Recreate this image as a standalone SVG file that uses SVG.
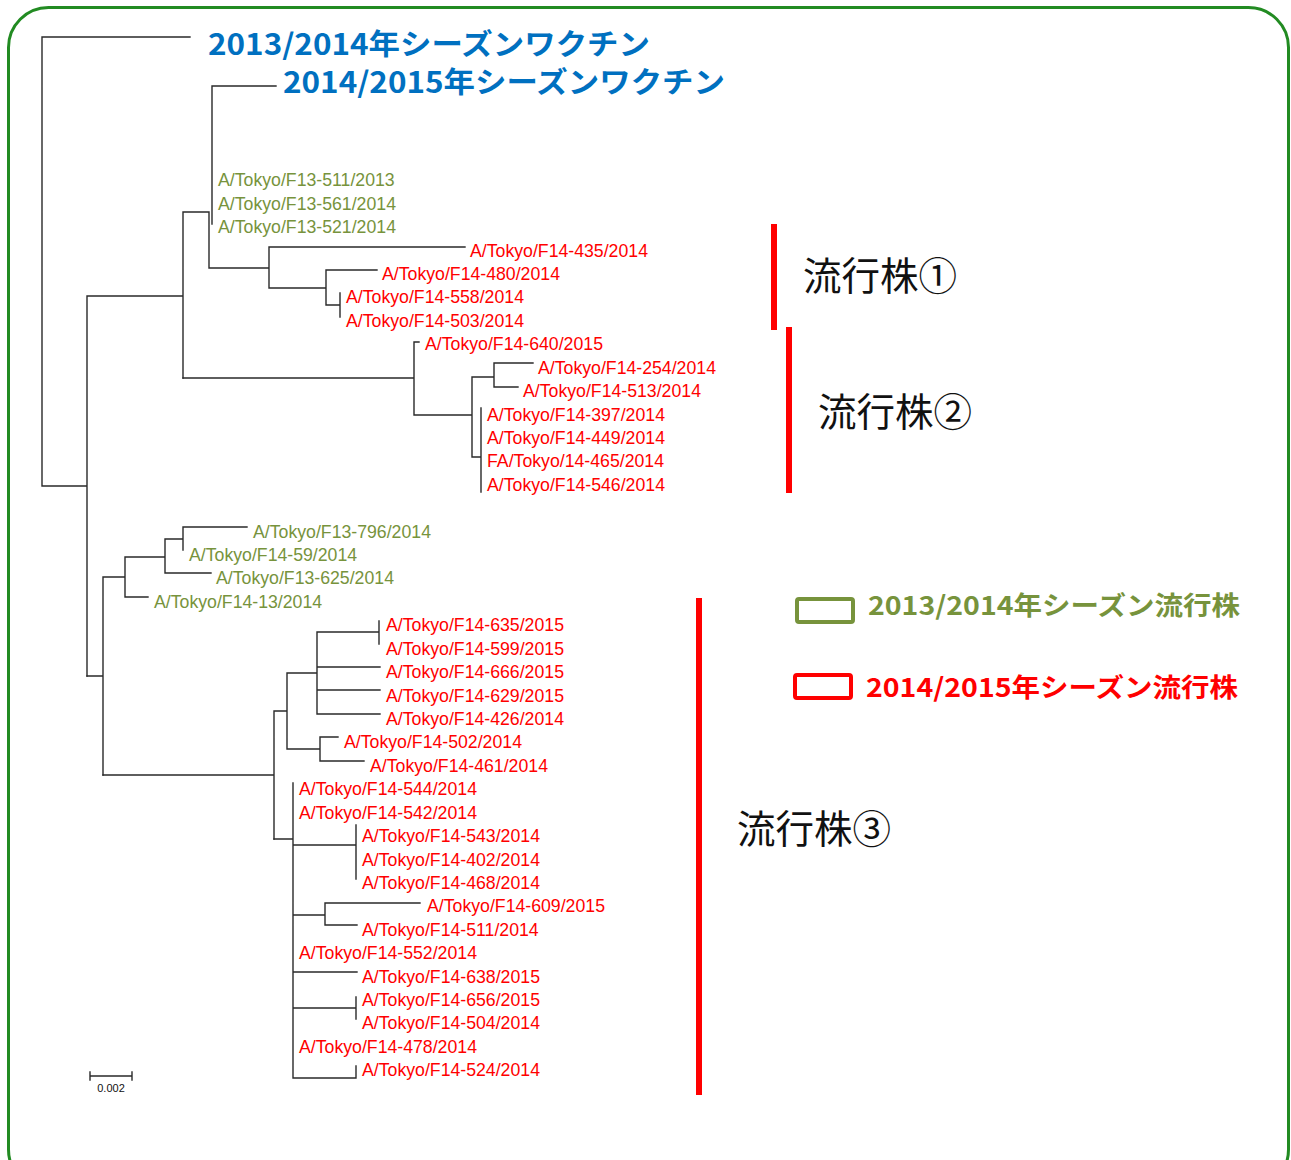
<svg xmlns="http://www.w3.org/2000/svg" width="1291" height="1160" viewBox="0 0 1291 1160">
<style>
.br{fill:none;stroke:#2a2a2a;stroke-width:1.4;stroke-linecap:square}
.lb{font-family:"Liberation Sans",Arial,sans-serif;font-size:17.7px}
.g{fill:#77933C}
.r{fill:#FF0000}
.vac{font-family:"Noto Sans CJK JP",sans-serif;font-weight:bold;font-size:29px;fill:#0070C0}
.leg{font-family:"Noto Sans CJK JP",sans-serif;font-weight:bold;font-size:26px}
.cl{font-family:"Noto Sans CJK JP",sans-serif;font-size:38.5px;fill:#111}
.bar{stroke:#FF0000;stroke-width:6}
</style>
<rect x="0" y="0" width="1291" height="1160" fill="#ffffff"/>
<rect id="frame" x="8.5" y="7.5" width="1280" height="1182" rx="40" ry="40" fill="none" stroke="#228B22" stroke-width="3"/>
<g id="connectors">
<path class="br" d="M42,37H190 M42,37V486 M42,486H87 M87,296V676 M87,296H183 M183,212V378 M183,212H209 M209,212V268 M212,86V224 M212,86H276 M209,268H269 M269,247V288 M269,247H465 M269,288H326 M326,270V305 M326,270H377 M326,305H340 M340,293V317"/>
<path class="br" d="M183,378H414 M414,342V415 M414,342H419 M414,415H472 M472,377V457 M472,377H494 M494,363V387 M494,363H533 M494,387H518 M472,457H481 M481,408V492"/>
<path class="br" d="M87,676H103 M103,577V775 M103,577H125 M125,557V597 M125,597H148 M125,557H165 M165,539V573 M165,573H211 M165,539H183 M183,527V550 M183,527H247"/>
<path class="br" d="M103,775H274 M274,711V839 M274,711H287 M287,673V749 M287,673H317 M317,632V714 M317,632H379 M379,621V644 M317,667H380 M317,690H380 M317,714H380 M287,749H320 M320,737V761 M320,737H338 M320,761H364"/>
<path class="br" d="M274,839H293 M293,783V1078 M293,845H356 M356,825V879 M293,915H325 M325,903V925 M325,903H420 M325,925H357 M293,972H357 M293,1008H356 M356,997V1019 M293,1078H356 M356,1066V1078"/>
</g>
<g id="scale">
<path class="br" d="M90,1076H132 M90,1072V1080 M132,1072V1080"/>
<text x="111" y="1092" text-anchor="middle" font-family="Liberation Sans,Arial,sans-serif" font-size="11" fill="#111">0.002</text>
</g>
<g id="vaccine-2013"><text class="vac" x="208" y="55" textLength="442" lengthAdjust="spacingAndGlyphs">2013/2014年シーズンワクチン</text></g>
<g id="vaccine-2014"><text class="vac" x="283" y="93" textLength="442" lengthAdjust="spacingAndGlyphs">2014/2015年シーズンワクチン</text></g>
<g id="leaves">
<text class="lb g" x="218" y="186.3">A/Tokyo/F13-511/2013</text>
<text class="lb g" x="218" y="209.7">A/Tokyo/F13-561/2014</text>
<text class="lb g" x="218" y="233.1">A/Tokyo/F13-521/2014</text>
<text class="lb r" x="470" y="256.6">A/Tokyo/F14-435/2014</text>
<text class="lb r" x="382" y="280.0">A/Tokyo/F14-480/2014</text>
<text class="lb r" x="346" y="303.4">A/Tokyo/F14-558/2014</text>
<text class="lb r" x="346" y="326.8">A/Tokyo/F14-503/2014</text>
<text class="lb r" x="425" y="350.2">A/Tokyo/F14-640/2015</text>
<text class="lb r" x="538" y="373.7">A/Tokyo/F14-254/2014</text>
<text class="lb r" x="523" y="397.1">A/Tokyo/F14-513/2014</text>
<text class="lb r" x="487" y="420.5">A/Tokyo/F14-397/2014</text>
<text class="lb r" x="487" y="443.9">A/Tokyo/F14-449/2014</text>
<text class="lb r" x="487" y="467.3">FA/Tokyo/14-465/2014</text>
<text class="lb r" x="487" y="490.8">A/Tokyo/F14-546/2014</text>
<text class="lb g" x="253" y="537.6">A/Tokyo/F13-796/2014</text>
<text class="lb g" x="189" y="561.0">A/Tokyo/F14-59/2014</text>
<text class="lb g" x="216" y="584.4">A/Tokyo/F13-625/2014</text>
<text class="lb g" x="154" y="607.9">A/Tokyo/F14-13/2014</text>
<text class="lb r" x="386" y="631.3">A/Tokyo/F14-635/2015</text>
<text class="lb r" x="386" y="654.7">A/Tokyo/F14-599/2015</text>
<text class="lb r" x="386" y="678.1">A/Tokyo/F14-666/2015</text>
<text class="lb r" x="386" y="701.5">A/Tokyo/F14-629/2015</text>
<text class="lb r" x="386" y="725.0">A/Tokyo/F14-426/2014</text>
<text class="lb r" x="344" y="748.4">A/Tokyo/F14-502/2014</text>
<text class="lb r" x="370" y="771.8">A/Tokyo/F14-461/2014</text>
<text class="lb r" x="299" y="795.2">A/Tokyo/F14-544/2014</text>
<text class="lb r" x="299" y="818.6">A/Tokyo/F14-542/2014</text>
<text class="lb r" x="362" y="842.1">A/Tokyo/F14-543/2014</text>
<text class="lb r" x="362" y="865.5">A/Tokyo/F14-402/2014</text>
<text class="lb r" x="362" y="888.9">A/Tokyo/F14-468/2014</text>
<text class="lb r" x="427" y="912.3">A/Tokyo/F14-609/2015</text>
<text class="lb r" x="362" y="935.7">A/Tokyo/F14-511/2014</text>
<text class="lb r" x="299" y="959.2">A/Tokyo/F14-552/2014</text>
<text class="lb r" x="362" y="982.6">A/Tokyo/F14-638/2015</text>
<text class="lb r" x="362" y="1006.0">A/Tokyo/F14-656/2015</text>
<text class="lb r" x="362" y="1029.4">A/Tokyo/F14-504/2014</text>
<text class="lb r" x="299" y="1052.8">A/Tokyo/F14-478/2014</text>
<text class="lb r" x="362" y="1076.3">A/Tokyo/F14-524/2014</text>
</g>
<g id="clade1"><line class="bar" x1="774" y1="224" x2="774" y2="330"/><text class="cl" x="803" y="290">流行株①</text></g>
<g id="clade2"><line class="bar" x1="789" y1="327" x2="789" y2="493"/><text class="cl" x="818" y="426">流行株②</text></g>
<g id="clade3"><line class="bar" x1="699" y1="598" x2="699" y2="1095"/><text class="cl" x="737" y="843">流行株③</text></g>
<g id="legend-2013"><rect x="797" y="599" width="56" height="23" rx="2" fill="none" stroke="#77933C" stroke-width="4"/><text class="leg g" x="868" y="615" textLength="372" lengthAdjust="spacingAndGlyphs">2013/2014年シーズン流行株</text></g>
<g id="legend-2014"><rect x="795" y="675" width="56" height="23" rx="2" fill="none" stroke="#FF0000" stroke-width="4"/><text class="leg r" x="866" y="697" textLength="372" lengthAdjust="spacingAndGlyphs">2014/2015年シーズン流行株</text></g>
</svg>
